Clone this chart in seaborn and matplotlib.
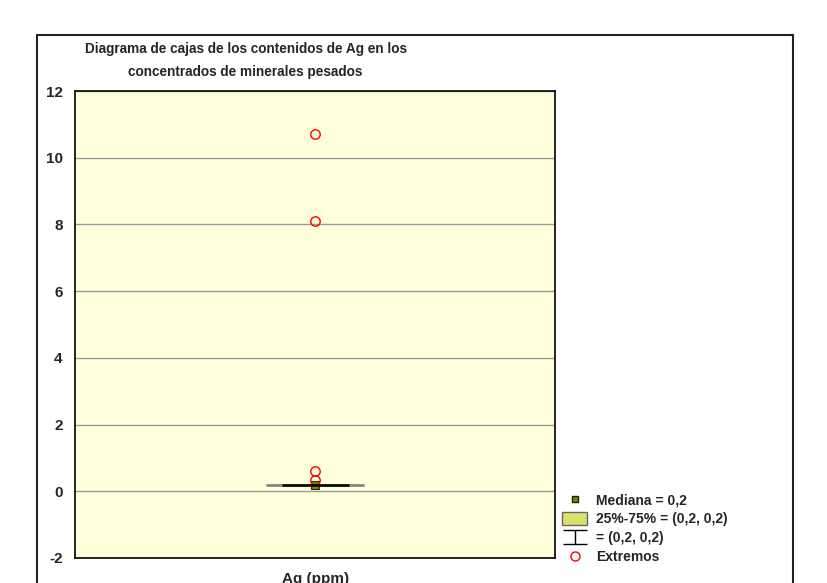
import numpy as np
import pandas as pd
import seaborn as sns
import matplotlib.pyplot as plt
from matplotlib.lines import Line2D
from matplotlib.patches import Patch, Rectangle
from matplotlib.path import Path

# Ag contents (ppm): most samples at 0.2, plus the extreme values
ag_base = [0.2] * 30
ag_extremes = [0.35, 0.6, 8.1, 10.7]
ag_values = ag_base + ag_extremes

yticks = [-2, 0, 2, 4, 6, 8, 10, 12]
title = "Diagrama de cajas de los contenidos de Ag en los\nconcentrados de minerales pesados"
legend_labels = ["Mediana = 0,2", "25%-75% = (0,2, 0,2)", "= (0,2, 0,2)", "Extremos"]

df = pd.DataFrame({"Ag (ppm)": ag_values})

sns.set_style("white")
plt.rcParams["font.family"] = ["Liberation Sans", "DejaVu Sans"]
plt.rcParams["font.weight"] = "bold"
plt.rcParams["axes.unicode_minus"] = False

fig = plt.figure(figsize=(8.27, 5.83), dpi=100)
ax = fig.add_axes([0.0907, 0.0429, 0.581, 0.801])
ax.set_facecolor("#ffffdc")

box_fill = "#d9e06c"
sns.boxplot(data=df, ax=ax, width=0.14, whis=1.5, color=box_fill,
            linecolor="black", linewidth=1.8, fliersize=6.8,
            flierprops=dict(marker="o", markerfacecolor="none",
                            markeredgecolor="red", markeredgewidth=1.0),
            capprops=dict(color="#888888", linewidth=1.8),
            capwidths=0.2, zorder=3)
sns.pointplot(data=df, ax=ax, estimator="median", errorbar=None,
              markers="s", linestyles="none", color="#808000",
              markersize=5.5, markeredgecolor="#333300", markeredgewidth=0.8)

ax.set_ylim(-2, 12)
ax.set_yticks(yticks)
ax.set_yticklabels([str(t) for t in yticks], fontsize=11, fontweight="bold")
ax.yaxis.grid(True, color="#999999", linewidth=1)
ax.set_axisbelow(True)
ax.tick_params(axis="y", length=0, pad=9)
ax.tick_params(axis="x", length=0, pad=10, labelsize=11)
for lbl in ax.get_xticklabels():
    lbl.set_fontweight("bold")
for s in ax.spines.values():
    s.set_color("black")
    s.set_linewidth(1.2)

ax.set_title(title, fontsize=9.8, fontweight="bold", pad=11,
             linespacing=1.8, x=0.355)

# I-shaped symbol for the whisker range in the legend
whisk_path = Path([(-1, 0.6), (1, 0.6), (0, 0.6), (0, -0.6), (-1, -0.6), (1, -0.6)],
                  [Path.MOVETO, Path.LINETO, Path.MOVETO, Path.LINETO,
                   Path.MOVETO, Path.LINETO])
handles = [
    Line2D([], [], marker="s", ls="", markersize=5, markerfacecolor="#808000",
           markeredgecolor="#222200"),
    Patch(facecolor=box_fill, edgecolor="#666666"),
    Line2D([], [], marker=whisk_path, ls="", markersize=17, color="black",
           markeredgewidth=1),
    Line2D([], [], marker="o", ls="", markersize=6.5, markerfacecolor="none",
           markeredgecolor="red"),
]
fig.legend(handles, legend_labels, loc="upper left",
           bbox_to_anchor=(0.665, 0.175), frameon=False,
           handlelength=1.75, handleheight=1.0, handletextpad=0.7,
           labelspacing=0.35, prop=dict(weight="bold", size=10))

# outer frame of the figure
fig.patches.append(Rectangle((0.045, -0.05), 0.914, 0.99, transform=fig.transFigure,
                             fill=False, edgecolor="#222222", linewidth=1.5))

fig.savefig("out.png", dpi=100, facecolor="white")
